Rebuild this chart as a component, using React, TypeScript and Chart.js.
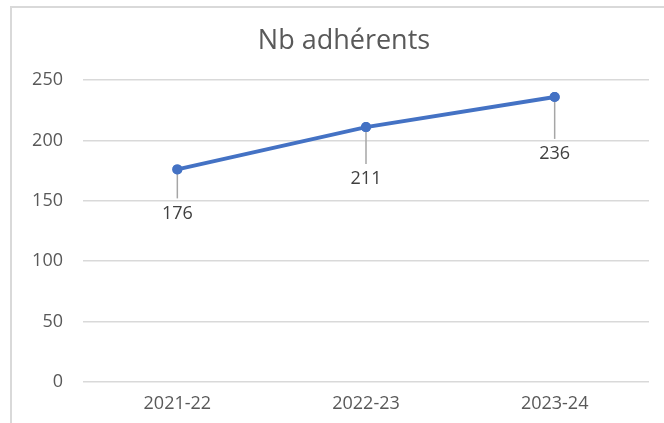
import React, { useEffect, useRef } from "react";
import { Chart, registerables } from "chart.js";

Chart.register(...registerables);

const TITLE = "Nb adhérents";
const CATEGORIES = ["2021-22", "2022-23", "2023-24"];
const VALUES = [176, 211, 236];
const Y_MIN = 0;
const Y_MAX = 250;
const Y_STEP = 50;
// label placement (style): distance in px from point to data-label centre
const LABEL_OFFSETS = [44, 52, 57];

const FONT = "'Open Sans', 'Noto Sans', sans-serif";

const titlePlugin = {
  id: "offsetTitle",
  afterDraw(chart: any) {
    const ctx = chart.ctx;
    ctx.save();
    ctx.fillStyle = "#595959";
    ctx.font = `27px ${FONT}`;
    ctx.textAlign = "center";
    ctx.textBaseline = "middle";
    ctx.fillText(TITLE, 344, 41);
    ctx.restore();
  },
};

const dataLabelPlugin = {
  id: "leaderLabels",
  afterDatasetsDraw(chart: any) {
    const ctx = chart.ctx;
    const meta = chart.getDatasetMeta(0);
    ctx.save();
    meta.data.forEach((pt: any, i: number) => {
      const x = pt.x;
      const y = pt.y;
      const ly = y + LABEL_OFFSETS[i % LABEL_OFFSETS.length];
      ctx.strokeStyle = "#A6A6A6";
      ctx.lineWidth = 1.5;
      ctx.beginPath();
      ctx.moveTo(x, y + 3);
      ctx.lineTo(x, ly - 15);
      ctx.stroke();
      ctx.fillStyle = "#404040";
      ctx.font = `18px ${FONT}`;
      ctx.textAlign = "center";
      ctx.textBaseline = "middle";
      ctx.fillText(String(VALUES[i]), x, ly);
    });
    meta.data.forEach((pt: any) => {
      ctx.fillStyle = "#4472C4";
      ctx.beginPath();
      ctx.arc(pt.x, pt.y, 5, 0, Math.PI * 2);
      ctx.fill();
    });
    ctx.restore();
  },
};

export default function App() {
  const ref = useRef<HTMLCanvasElement | null>(null);

  useEffect(() => {
    if (!ref.current) return;
    const chart = new Chart(ref.current, {
      type: "line",
      data: {
        labels: CATEGORIES,
        datasets: [
          {
            data: VALUES,
            borderColor: "#4472C4",
            backgroundColor: "#4472C4",
            borderWidth: 4,
            pointRadius: 5,
            pointBackgroundColor: "#4472C4",
            pointBorderColor: "#4472C4",
            pointBorderWidth: 0,
            tension: 0,
            clip: false as any,
          },
        ],
      },
      options: {
        responsive: false,
        animation: false,
        maintainAspectRatio: false,
        layout: { padding: { left: 0, right: 15, top: 80, bottom: 0 } },
        plugins: {
          legend: { display: false },
          tooltip: { enabled: false },
          title: { display: false },
        },
        scales: {
          x: {
            offset: true,
            grid: { display: false, drawTicks: false },
            border: { display: false },
            ticks: {
              color: "#595959",
              font: { family: FONT, size: 18 },
              padding: 11,
              maxRotation: 0,
            },
            afterFit(scale: any) {
              scale.height = 41;
            },
          },
          y: {
            min: Y_MIN,
            max: Y_MAX,
            grid: { color: "#D9D9D9", lineWidth: 1.5, drawTicks: false },
            border: { display: false },
            ticks: {
              stepSize: Y_STEP,
              color: "#595959",
              font: { family: FONT, size: 18 },
              padding: 20,
            },
            afterFit(scale: any) {
              scale.width = 83;
            },
          },
        },
      },
      plugins: [dataLabelPlugin, titlePlugin],
    });
    return () => chart.destroy();
  }, []);

  return (
    <div
      style={{
        position: "fixed",
        left: 0,
        top: 0,
        width: 664,
        height: 423,
        overflow: "hidden",
        background: "#ffffff",
      }}
    >
      <div
        style={{
          position: "absolute",
          left: 10,
          top: 6,
          width: 700,
          height: 500,
          border: "2px solid #D9D9D9",
          boxSizing: "border-box",
        }}
      />
      <canvas
        ref={ref}
        width={664}
        height={423}
        style={{ position: "absolute", left: 0, top: 0, width: 664, height: 423 }}
      />
    </div>
  );
}
